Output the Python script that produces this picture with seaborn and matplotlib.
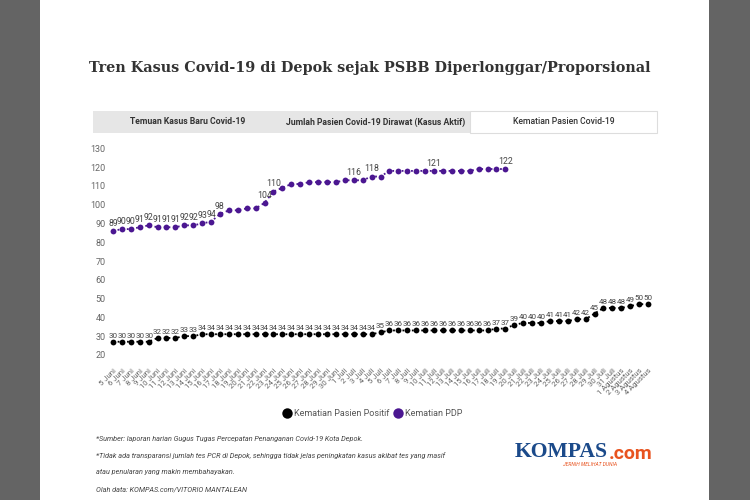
import matplotlib
matplotlib.use('Agg')
import matplotlib.pyplot as plt
import seaborn as sns
import pandas as pd
from matplotlib.patches import Rectangle
from matplotlib.lines import Line2D
from matplotlib.transforms import ScaledTranslation

# ---------------- data ----------------
dates = ["5 Juni", "6 Juni", "7 Juni", "8 Juni", "9 Juni", "10 Juni", "11 Juni", "12 Juni",
         "13 Juni", "14 Juni", "15 Juni", "16 Juni", "17 Juni", "18 Juni", "19 Juni", "20 Juni",
         "21 Juni", "22 Juni", "23 Juni", "24 Juni", "25 Juni", "26 Juni", "27 Juni", "28 Juni",
         "29 Juni", "30 Juni",
         "1 Juli", "2 Juli", "3 Juli", "4 Juli", "5 Juli", "6 Juli", "7 Juli", "8 Juli", "9 Juli",
         "10 Juli", "11 Juli", "12 Juli", "13 Juli", "14 Juli", "15 Juli", "16 Juli", "17 Juli",
         "18 Juli", "19 Juli", "20 Juli", "21 Juli", "22 Juli", "23 Juli", "24 Juli", "25 Juli",
         "26 Juli", "27 Juli", "28 Juli", "29 Juli", "30 Juli", "31 Juli",
         "1 Agustus", "2 Agustus", "3 Agustus", "4 Agustus"]

kematian_positif = [30, 30, 30, 30, 30, 32, 32, 32, 33, 33,
                    34, 34, 34, 34, 34, 34, 34, 34, 34, 34,
                    34, 34, 34, 34, 34, 34, 34, 34, 34, 34,
                    35, 36, 36, 36, 36, 36, 36, 36, 36, 36,
                    36, 36, 36, 37, 37, 39, 40, 40, 40, 41,
                    41, 41, 42, 42, 45, 48, 48, 48, 49, 50, 50]

kematian_pdp = [89, 90, 90, 91, 92, 91, 91, 91, 92, 92,
                93, 94, 98, 100, 100, 101, 101, 104, 110, 112,
                114, 114, 115, 115, 115, 115, 116, 116, 116, 118,
                118, 121, 121, 121, 121, 121, 121, 121, 121, 121,
                121, 122, 122, 122, 122]

# which PDP points carry a value label in the reference
pdp_labelled = [0, 1, 2, 3, 4, 5, 6, 7, 8, 9, 10, 11, 12, 17, 18, 27, 29, 36, 44]

series_names = ["Kematian Pasien Positif", "Kematian PDP"]
series_colors = ["#000000", "#4b1791"]

title = "Tren Kasus Covid-19 di Depok sejak PSBB Diperlonggar/Proporsional"
tabs = ["Temuan Kasus Baru Covid-19", "Jumlah Pasien Covid-19 Dirawat (Kasus Aktif)",
        "Kematian Pasien Covid-19"]
notes = ["*Sumber: laporan harian Gugus Tugas Percepatan Penanganan Covid-19 Kota Depok.",
         "*Tidak ada transparansi jumlah tes PCR di Depok, sehingga tidak jelas peningkatan kasus akibat tes yang masif",
         "atau penularan yang makin membahayakan.",
         "Olah data: KOMPAS.com/VITORIO MANTALEAN"]
yticks = [20, 30, 40, 50, 60, 70, 80, 90, 100, 110, 120, 130]

# ---------------- figure ----------------
sns.set_theme(style="white")
plt.rcParams['font.family'] = ['Roboto', 'DejaVu Sans']

W, H = 750, 500
fig = plt.figure(figsize=(7.5, 5), dpi=100)
fig.patch.set_facecolor('white')


def px(x, y):
    return x / W, 1 - y / H


# grey side strips of the page
fig.patches.append(Rectangle((0, 0), 40 / W, 1, transform=fig.transFigure,
                             facecolor='#646464', edgecolor='none', zorder=0))
fig.patches.append(Rectangle((709 / W, 0), 41 / W, 1, transform=fig.transFigure,
                             facecolor='#646464', edgecolor='none', zorder=0))

# title
fig.text(*px(370, 68), title, ha='center', va='center', fontsize=10.4,
         fontweight='bold', family='DejaVu Serif', color='#333333')

# tabs
tab_edges = [93, 282, 470, 657]
for i, name in enumerate(tabs):
    x0, x1 = tab_edges[i], tab_edges[i + 1]
    active = (i == 2)
    fig.patches.append(Rectangle(px(x0, 133), (x1 - x0) / W, 22 / H, transform=fig.transFigure,
                                 facecolor='white' if active else '#e6e6e6',
                                 edgecolor='#dddddd' if active else 'none', linewidth=0.8,
                                 zorder=1))
    fig.text(*px((x0 + x1) / 2, 122), name, ha='center', va='center', fontsize=6.2,
             fontweight='bold' if not active else 'medium', color='#333333')

# axes
ax = fig.add_axes([108.5 / W, 1 - 360.5 / H, 544 / W, 206.5 / H])
df_pos = pd.DataFrame({"idx": range(len(kematian_positif)), "val": kematian_positif})
df_pdp = pd.DataFrame({"idx": range(len(kematian_pdp)), "val": kematian_pdp})

for df, color in zip([df_pos, df_pdp], series_colors):
    sns.lineplot(data=df, x="idx", y="val", ax=ax, color=color, marker='o', markersize=4.2,
                 markeredgewidth=0, linestyle=(0, (1, 1.6)), linewidth=1.3)

for i, v in enumerate(kematian_positif):
    ax.annotate(str(v), (i, v), xytext=(0, 2.2), textcoords='offset points', ha='center',
                va='bottom', fontsize=5.8, color='#444444')
for i in pdp_labelled:
    v = kematian_pdp[i]
    ax.annotate(str(v), (i, v), xytext=(0, 2.2), textcoords='offset points', ha='center',
                va='bottom', fontsize=6.3, color='#444444')

ax.set_xlim(-0.5, len(dates) - 0.5)
ax.set_ylim(20, 130)
ax.set_yticks(yticks)
ax.set_yticklabels([str(t) for t in yticks], fontsize=6.5, color='#666666')
ax.set_xticks(range(len(dates)))
ax.set_xticklabels(dates, rotation=45, ha='right', rotation_mode='anchor', fontsize=5.6,
                   color='#666666')
ax.tick_params(axis='both', length=0)
ax.tick_params(axis='y', pad=2)
ax.tick_params(axis='x', pad=5)
ax.set_xlabel("")
ax.set_ylabel("")
ax.grid(False)
for s in ax.spines.values():
    s.set_visible(False)
ax.set_facecolor('none')

off = ScaledTranslation(0, 4 / 72, fig.dpi_scale_trans)
for lbl in ax.get_yticklabels():
    lbl.set_transform(lbl.get_transform() + off)

# legend
handles = [Line2D([], [], marker='o', linestyle='none', markersize=7.5, color=c,
                  markeredgewidth=0) for c in series_colors]
fig.legend(handles, series_names, loc='center', bbox_to_anchor=px(372, 414), ncol=2,
           frameon=False, fontsize=6.5, handletextpad=0.2, columnspacing=0.4,
           labelcolor='#555555', handlelength=1.2)

# notes
for y, t in zip([439, 456, 472, 489], notes):
    fig.text(*px(96, y), t, ha='left', va='center', fontsize=5.2, style='italic',
             color='#444444')

# logo
fig.text(*px(515, 452), "KOMPAS", ha='left', va='center', fontsize=15.6, fontweight='bold',
         family='Liberation Serif', color='#1b4a8a')
fig.text(*px(609, 454), ".com", ha='left', va='center', fontsize=14, fontweight='bold',
         family='Roboto', color='#e8531f')
fig.text(*px(590, 465), "JERNIH MELIHAT DUNIA", ha='center', va='center', fontsize=3.6,
         style='italic', color='#e8531f')

fig.savefig("out.png", dpi=100, facecolor='white')
